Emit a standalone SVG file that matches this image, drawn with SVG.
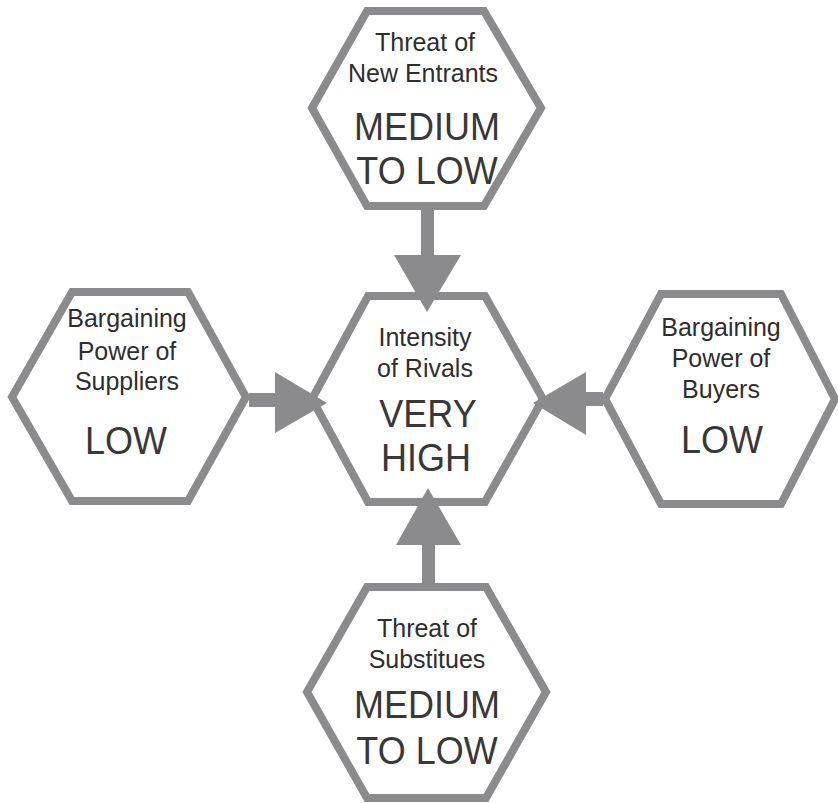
<svg xmlns="http://www.w3.org/2000/svg" width="838" height="803" viewBox="0 0 838 803">
<style>
.hex{fill:#ffffff;stroke:#8b8b8d;stroke-width:8;stroke-linejoin:miter}
.arr{fill:#8b8b8d;stroke:none}
.s{font-family:"Liberation Sans",Arial,sans-serif;font-size:25px;fill:#2e2e2e;text-anchor:middle}
.b{font-family:"Liberation Sans",Arial,sans-serif;font-size:36px;fill:#383838;text-anchor:middle}
</style>
<rect width="838" height="803" fill="#ffffff"/>
<g id="center">
<polygon class="hex" points="312,399 368,296 485,296 543,399 485,502 368,502"/>
<text class="s" x="425" y="346">Intensity</text>
<text class="s" x="425" y="377">of Rivals</text>
<text class="b" transform="translate(428,427) scale(1,1.1)" x="0" y="0">VERY</text>
<text class="b" transform="translate(426,471) scale(1,1.1)" x="0" y="0">HIGH</text>
</g>
<g id="new-entrants">
<polygon class="hex" points="312,108 367,11 484,11 541,108 484,206 367,206"/>
<text class="s" x="425" y="51">Threat of</text>
<text class="s" x="423" y="82">New Entrants</text>
<text class="b" transform="translate(427,140) scale(1,1.1)" x="0" y="0">MEDIUM</text>
<text class="b" transform="translate(427,184) scale(1,1.1)" x="0" y="0">TO LOW</text>
</g>
<g id="suppliers">
<polygon class="hex" points="12,397 72,292 188,292 246,397 188,501 72,501"/>
<text class="s" x="127" y="327">Bargaining</text>
<text class="s" x="127" y="360">Power of</text>
<text class="s" x="127" y="390">Suppliers</text>
<text class="b" transform="translate(126,454) scale(1,1.1)" x="0" y="0">LOW</text>
</g>
<g id="buyers">
<polygon class="hex" points="605,399 661,294 781,294 835,399 781,504 661,504"/>
<text class="s" x="721" y="336">Bargaining</text>
<text class="s" x="721" y="367">Power of</text>
<text class="s" x="721" y="398">Buyers</text>
<text class="b" transform="translate(722,453) scale(1,1.1)" x="0" y="0">LOW</text>
</g>
<g id="substitutes">
<polygon class="hex" points="307,692 367,587 486,587 546,692 486,798 367,798"/>
<text class="s" x="427" y="637">Threat of</text>
<text class="s" x="427" y="668">Substitues</text>
<text class="b" transform="translate(427,718) scale(1,1.1)" x="0" y="0">MEDIUM</text>
<text class="b" transform="translate(427,764) scale(1,1.1)" x="0" y="0">TO LOW</text>
</g>
<g id="connectors">
<rect class="arr" x="421" y="209" width="13" height="48"/>
<polygon class="arr" points="394,255 461,255 427,312"/>
<rect class="arr" x="422" y="543" width="13" height="41"/>
<polygon class="arr" points="396,545 461,545 428,488"/>
<rect class="arr" x="249" y="393" width="28" height="14"/>
<polygon class="arr" points="275,372 275,433 327,403"/>
<rect class="arr" x="583" y="392" width="20" height="14"/>
<polygon class="arr" points="586,372 586,435 533,403"/>
</g>
</svg>
